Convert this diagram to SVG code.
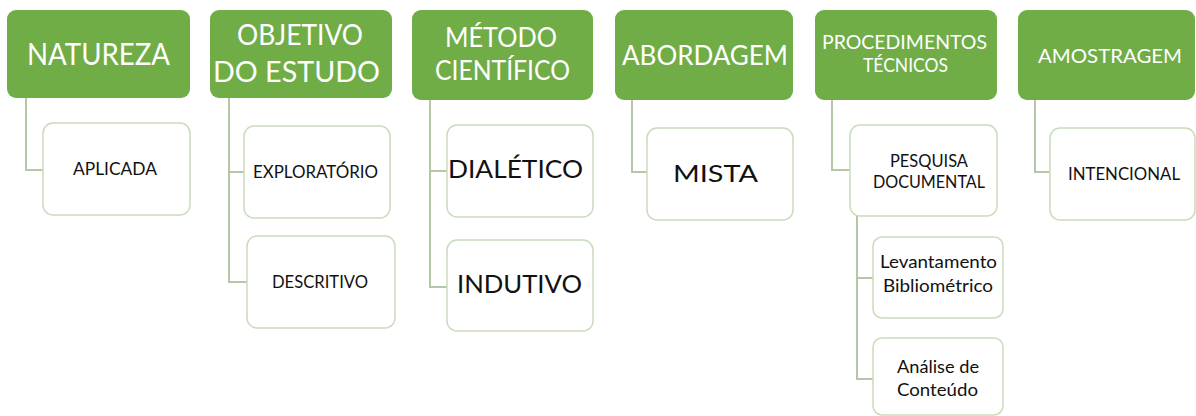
<svg xmlns="http://www.w3.org/2000/svg" width="1196" height="416" viewBox="0 0 1196 416">
<style>
.hd{fill:#70AD47}
.bx{fill:#fff;stroke:#C9DCBC;stroke-width:1.5}
.ht{font-family:Lato,"Open Sans","Liberation Sans",sans-serif;fill:#fff;text-anchor:middle}
.bt{font-family:Lato,"Open Sans","Liberation Sans",sans-serif;fill:#111;text-anchor:middle}
.cn{fill:none;stroke:#B4C7A6;stroke-width:2}
</style>
<rect width="1196" height="416" fill="#fff"/>
<g id="connectors">
<path class="cn" d="M26 98 V170 H43"/>
<path class="cn" d="M229 98 V282 H247 M229 172 H244"/>
<path class="cn" d="M430 100 V287 H447 M430 171 H447"/>
<path class="cn" d="M632 100 V172 H647"/>
<path class="cn" d="M832 100 V170 H850"/>
<path class="cn" d="M857 216 V379 H873 M857 278 H873"/>
<path class="cn" d="M1035 100 V172 H1050"/>
</g>
<g id="natureza">
<rect class="hd" x="7" y="10" width="183" height="88" rx="9"/>
<text class="ht" x="98.5" y="65" font-size="31" textLength="143" lengthAdjust="spacingAndGlyphs">NATUREZA</text>
</g>
<g id="aplicada">
<rect class="bx" x="43" y="123" width="147" height="92" rx="10"/>
<text class="bt" x="115" y="175" font-size="17" textLength="84" lengthAdjust="spacingAndGlyphs">APLICADA</text>
</g>
<g id="objetivo">
<rect class="hd" x="210" y="10" width="182" height="88" rx="9"/>
<text class="ht" x="300" y="45" font-size="28" textLength="126" lengthAdjust="spacingAndGlyphs">OBJETIVO</text>
<text class="ht" x="296.5" y="82" font-size="28" textLength="167" lengthAdjust="spacingAndGlyphs">DO ESTUDO</text>
</g>
<g id="exploratorio">
<rect class="bx" x="244" y="126" width="146" height="92" rx="10"/>
<text class="bt" x="315.5" y="178" font-size="17" textLength="125" lengthAdjust="spacingAndGlyphs">EXPLORATÓRIO</text>
</g>
<g id="descritivo">
<rect class="bx" x="247" y="236" width="148" height="92" rx="10"/>
<text class="bt" x="320" y="288" font-size="17" textLength="96" lengthAdjust="spacingAndGlyphs">DESCRITIVO</text>
</g>
<g id="metodo">
<rect class="hd" x="412" y="10" width="181" height="90" rx="9"/>
<text class="ht" x="501" y="47" font-size="26" textLength="112" lengthAdjust="spacingAndGlyphs">MÉTODO</text>
<text class="ht" x="502.5" y="80" font-size="26" textLength="135" lengthAdjust="spacingAndGlyphs">CIENTÍFICO</text>
</g>
<g id="dialetico">
<rect class="bx" x="447" y="125" width="146" height="92" rx="10"/>
<text class="bt" x="515.5" y="178" font-size="25" textLength="135" lengthAdjust="spacingAndGlyphs">DIALÉTICO</text>
</g>
<g id="indutivo">
<rect class="bx" x="447" y="240" width="146" height="91" rx="10"/>
<text class="bt" x="519.5" y="293" font-size="25" textLength="125" lengthAdjust="spacingAndGlyphs">INDUTIVO</text>
</g>
<g id="abordagem">
<rect class="hd" x="615" y="10" width="178" height="90" rx="9"/>
<text class="ht" x="705" y="65" font-size="26" textLength="166" lengthAdjust="spacingAndGlyphs">ABORDAGEM</text>
</g>
<g id="mista">
<rect class="bx" x="647" y="128" width="146" height="92" rx="10"/>
<text class="bt" x="715.5" y="182" font-size="24" textLength="85" lengthAdjust="spacingAndGlyphs">MISTA</text>
</g>
<g id="procedimentos">
<rect class="hd" x="815" y="10" width="182" height="90" rx="9"/>
<text class="ht" x="904.5" y="49" font-size="19" textLength="165" lengthAdjust="spacingAndGlyphs">PROCEDIMENTOS</text>
<text class="ht" x="905.5" y="72" font-size="19" textLength="85" lengthAdjust="spacingAndGlyphs">TÉCNICOS</text>
</g>
<g id="pesquisa">
<rect class="bx" x="850" y="125" width="147" height="91" rx="10"/>
<text class="bt" x="929" y="167" font-size="17" textLength="78" lengthAdjust="spacingAndGlyphs">PESQUISA</text>
<text class="bt" x="929" y="188" font-size="17" textLength="112" lengthAdjust="spacingAndGlyphs">DOCUMENTAL</text>
</g>
<g id="levantamento">
<rect class="bx" x="873" y="237" width="130" height="81" rx="9"/>
<text class="bt" x="938.5" y="268" font-size="18" textLength="117" lengthAdjust="spacingAndGlyphs">Levantamento</text>
<text class="bt" x="938" y="292" font-size="18" textLength="110" lengthAdjust="spacingAndGlyphs">Bibliométrico</text>
</g>
<g id="analise">
<rect class="bx" x="873" y="338" width="130" height="77" rx="9"/>
<text class="bt" x="938" y="373" font-size="18" textLength="82" lengthAdjust="spacingAndGlyphs">Análise de</text>
<text class="bt" x="937.5" y="396" font-size="18" textLength="81" lengthAdjust="spacingAndGlyphs">Conteúdo</text>
</g>
<g id="amostragem">
<rect class="hd" x="1018" y="10" width="177" height="90" rx="9"/>
<text class="ht" x="1110" y="63" font-size="20" textLength="144" lengthAdjust="spacingAndGlyphs">AMOSTRAGEM</text>
</g>
<g id="intencional">
<rect class="bx" x="1050" y="128" width="145" height="92" rx="10"/>
<text class="bt" x="1124" y="180" font-size="17" textLength="112" lengthAdjust="spacingAndGlyphs">INTENCIONAL</text>
</g>
</svg>
